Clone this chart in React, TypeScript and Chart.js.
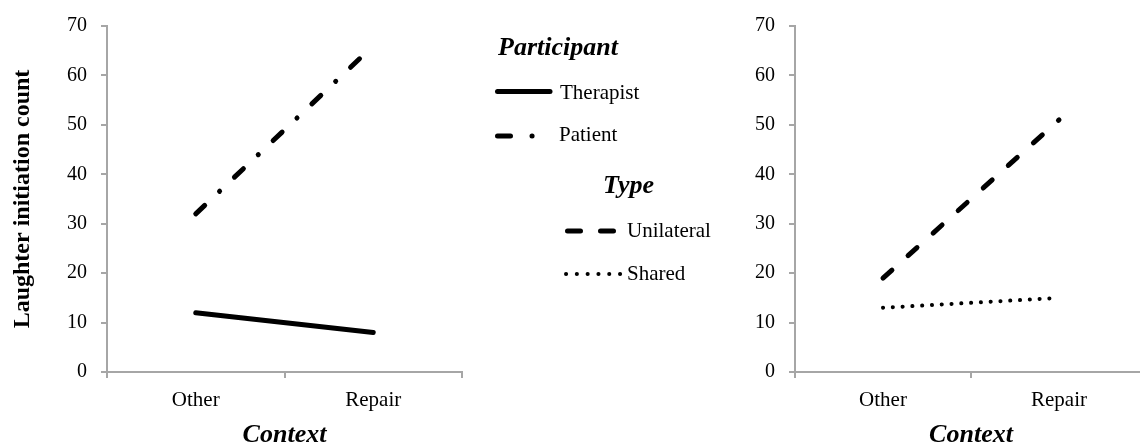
import React, { useEffect, useRef } from 'react';
import { Chart, registerables } from 'chart.js';

Chart.register(...registerables);

// ---- data ----
const categories = ['Other', 'Repair'];
const therapist = [12, 8];
const patient = [32, 66];
const unilateral = [19, 51];
const shared = [13, 15];
const yMin = 0;
const yMax = 70;
const yStep = 10;
const participantTitle = 'Participant';
const participantLabels = ['Therapist', 'Patient'];
const typeTitle = 'Type';
const typeLabels = ['Unilateral', 'Shared'];
const yTitle = 'Laughter initiation count';
const xTitle = 'Context';

const SERIF = '"Liberation Serif", "Times New Roman", serif';
const AXIS = '#a6a6a6';
const INK = '#000000';

function makeScales(yWidth: number, showYTitle: boolean): any {
  return {
    x: {
      type: 'category',
      offset: true,
      grid: {
        display: true,
        drawOnChartArea: false,
        drawTicks: true,
        tickLength: 6,
        color: AXIS,
        lineWidth: 2,
        offset: true,
      },
      border: { display: true, color: AXIS, width: 2 },
      ticks: { color: INK, font: { family: SERIF, size: 21 }, padding: 10, maxRotation: 0 },
      title: {
        display: true,
        text: xTitle,
        color: INK,
        font: { family: SERIF, size: 26, weight: 'bold', style: 'italic', lineHeight: 0.85 },
        padding: { top: 0, bottom: 0 },
      },
      afterFit: (s: any) => {
        s.height = 74;
      },
    },
    y: {
      min: yMin,
      max: yMax,
      grid: { drawOnChartArea: false, drawTicks: true, tickLength: 6, color: AXIS, lineWidth: 2 },
      border: { display: true, color: AXIS, width: 2 },
      ticks: { stepSize: yStep, color: INK, font: { family: SERIF, size: 20 }, padding: 14 },
      title: {
        display: showYTitle,
        text: yTitle,
        color: INK,
        font: { family: SERIF, size: 24, weight: 'bold' },
        padding: { top: 8, bottom: 0 },
      },
      afterFit: (s: any) => {
        s.width = yWidth;
      },
    },
  };
}

const legendPlugin = {
  id: 'middleLegend',
  afterDraw(chart: any) {
    const ctx: CanvasRenderingContext2D = chart.ctx;
    ctx.save();
    ctx.fillStyle = INK;
    ctx.strokeStyle = INK;
    ctx.textAlign = 'left';
    ctx.textBaseline = 'alphabetic';

    // titles
    ctx.font = `italic bold 26px ${SERIF}`;
    ctx.fillText(participantTitle, 498, 55);
    ctx.fillText(typeTitle, 603, 193);

    ctx.font = `21px ${SERIF}`;
    ctx.fillText(participantLabels[0], 560, 99);
    ctx.fillText(participantLabels[1], 559, 141);
    ctx.fillText(typeLabels[0], 627, 237);
    ctx.fillText(typeLabels[1], 627, 280);

    ctx.lineCap = 'round';
    // Therapist: solid
    ctx.lineWidth = 5;
    ctx.setLineDash([]);
    ctx.beginPath();
    ctx.moveTo(497.5, 91.5);
    ctx.lineTo(550, 91.5);
    ctx.stroke();

    // Patient: dash dot
    ctx.setLineDash([13, 21.5, 0.1, 100]);
    ctx.beginPath();
    ctx.moveTo(497.5, 136);
    ctx.lineTo(534, 136);
    ctx.stroke();

    // Unilateral: dashes
    ctx.setLineDash([13, 20]);
    ctx.beginPath();
    ctx.moveTo(567.5, 231);
    ctx.lineTo(615, 231);
    ctx.stroke();

    // Shared: dots
    ctx.lineWidth = 4;
    ctx.setLineDash([0.1, 10.7]);
    ctx.beginPath();
    ctx.moveTo(566, 274);
    ctx.lineTo(621, 274);
    ctx.stroke();

    ctx.restore();
  },
};

export default function App() {
  const leftRef = useRef<HTMLCanvasElement>(null);
  const rightRef = useRef<HTMLCanvasElement>(null);

  useEffect(() => {
    const left = new Chart(leftRef.current as HTMLCanvasElement, {
      type: 'line',
      data: {
        labels: categories,
        datasets: [
          {
            label: participantLabels[0],
            data: therapist,
            borderColor: INK,
            borderWidth: 5,
            borderCapStyle: 'round',
            pointRadius: 0,
            tension: 0,
            fill: false,
          },
          {
            label: participantLabels[1],
            data: patient,
            borderColor: INK,
            borderWidth: 5,
            borderCapStyle: 'round',
            borderDash: [12.3, 20.45, 0.1, 20.45],
            pointRadius: 0,
            tension: 0,
            fill: false,
          },
        ],
      },
      options: {
        responsive: false,
        animation: false,
        devicePixelRatio: 1,
        layout: { padding: { left: 0, right: 278, top: 21, bottom: 0 } },
        plugins: { legend: { display: false }, tooltip: { enabled: false } },
        scales: makeScales(107, true),
      } as any,
      plugins: [legendPlugin],
    } as any);

    const right = new Chart(rightRef.current as HTMLCanvasElement, {
      type: 'line',
      data: {
        labels: categories,
        datasets: [
          {
            label: typeLabels[0],
            data: unilateral,
            borderColor: INK,
            borderWidth: 5,
            borderCapStyle: 'round',
            borderDash: [12, 21.7],
            pointRadius: 0,
            tension: 0,
            fill: false,
          },
          {
            label: typeLabels[1],
            data: shared,
            borderColor: INK,
            borderWidth: 4,
            borderCapStyle: 'round',
            borderDash: [0.1, 9.7],
            pointRadius: 0,
            tension: 0,
            fill: false,
          },
        ],
      },
      options: {
        responsive: false,
        animation: false,
        devicePixelRatio: 1,
        layout: { padding: { left: 0, right: 13, top: 21, bottom: 0 } },
        plugins: { legend: { display: false }, tooltip: { enabled: false } },
        scales: makeScales(55, false),
      } as any,
    } as any);

    return () => {
      left.destroy();
      right.destroy();
    };
  }, []);

  return (
    <div
      style={{
        position: 'absolute',
        left: 0,
        top: 0,
        width: 1140,
        height: 446,
        overflow: 'hidden',
        background: '#ffffff',
      }}
    >
      <canvas
        ref={leftRef}
        width={740}
        height={446}
        style={{ position: 'absolute', left: 0, top: 0, width: 740, height: 446 }}
      />
      <canvas
        ref={rightRef}
        width={420}
        height={446}
        style={{ position: 'absolute', left: 740, top: 0, width: 420, height: 446 }}
      />
    </div>
  );
}
